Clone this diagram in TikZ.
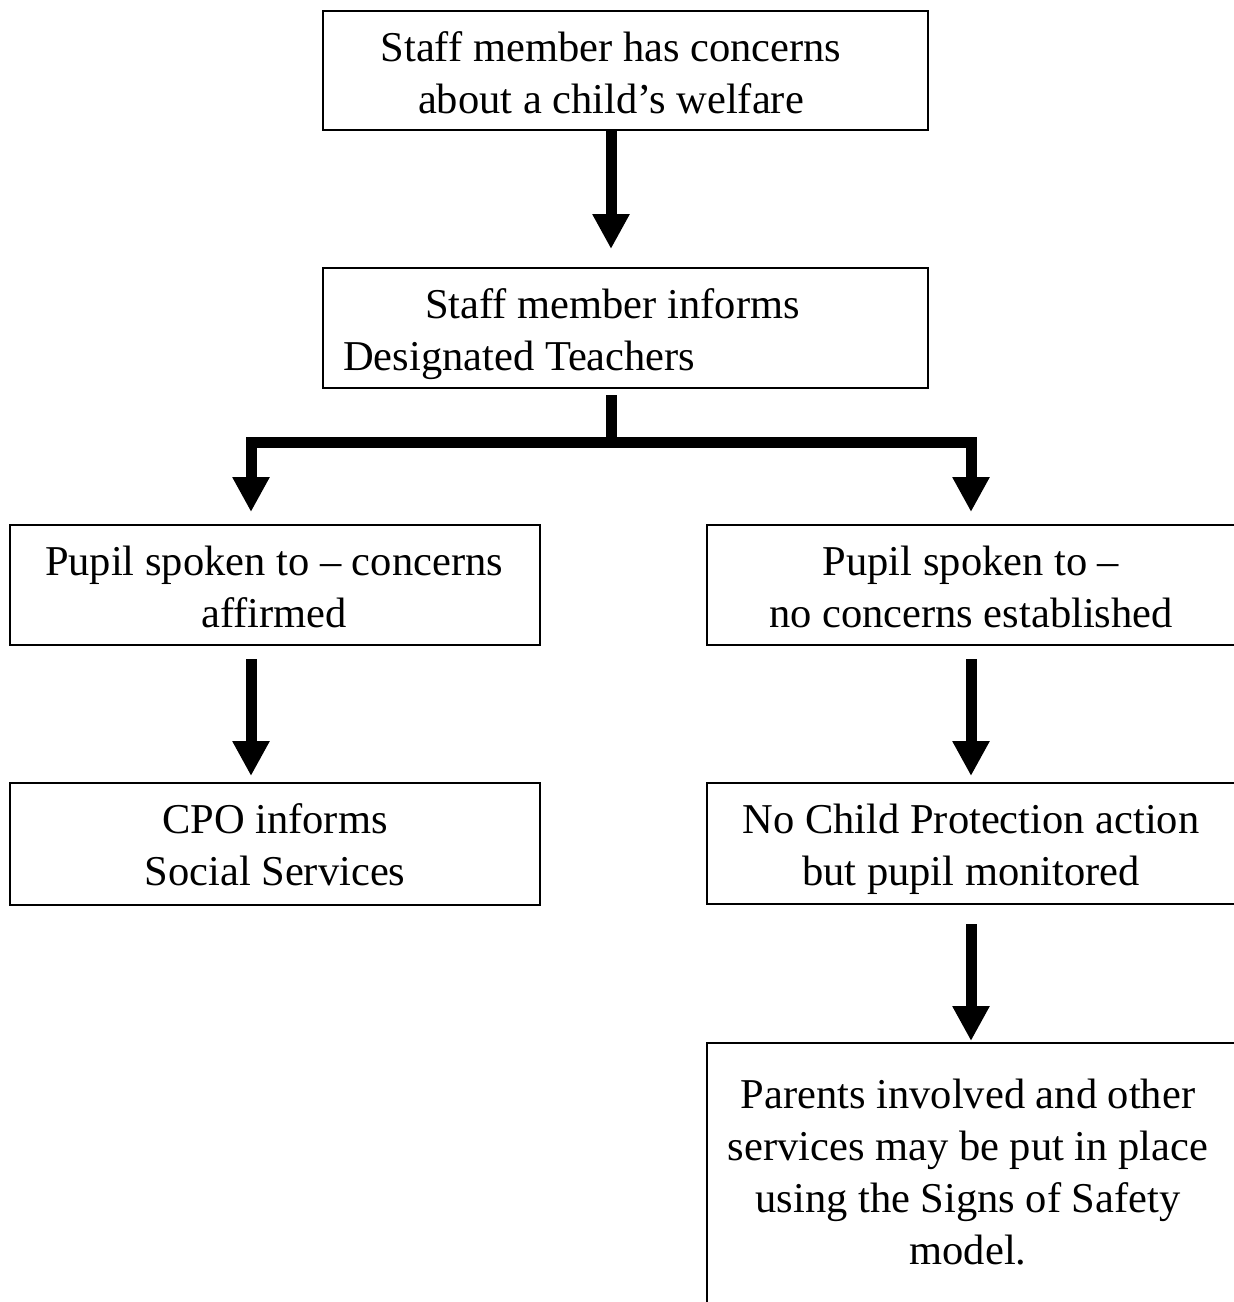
\documentclass[tikz,border=0pt]{standalone}
\usepackage{fontspec}
\setmainfont{Liberation Serif}
\usetikzlibrary{arrows.meta}
\newcommand{\tlines}[2][c]{\begin{tabular}[t]{@{}#1@{}}#2\end{tabular}}
\tikzset{
  box/.style={draw, rectangle, line width=2pt, inner sep=0pt},
  txt/.style={inner sep=0pt, anchor=base, font=\fontsize{42.5}{52}\selectfont},
  fatline/.style={line width=11pt, line cap=butt, line join=miter},
  fatarrow/.style={fatline, -{Triangle[width=35pt,length=35pt]}}
}
\begin{document}
\begin{tikzpicture}[x=1pt,y=-1pt]
\path[use as bounding box] (0,0) rectangle (1234,1302);
\clip (0,0) rectangle (1234,1302);
% boxes
\node[box, minimum width=605pt, minimum height=119pt] (b1) at (625.5,70.5) {};
\node[box, minimum width=605pt, minimum height=120pt] (b2) at (625.5,328) {};
\node[box, minimum width=530pt, minimum height=120pt] (b3) at (275,585) {};
\node[box, minimum width=533pt, minimum height=120pt] (b4) at (973.5,585) {};
\node[box, minimum width=530pt, minimum height=122pt] (b5) at (275,844) {};
\node[box, minimum width=533pt, minimum height=121pt] (b6) at (973.5,843.5) {};
\node[box, minimum width=533pt, minimum height=357pt] (b7) at (973.5,1221.5) {};
% texts
\node[txt] (t1) at (611,61) {\tlines{Staff member has concerns\\about a child’s welfare}};
\node[txt, anchor=base west] (t2) at (343,318) {\tlines[l]{\hspace*{82pt}Staff member informs\\Designated Teachers}};
\node[txt] (t3) at (274,575) {\tlines{Pupil spoken to – concerns\\affirmed}};
\node[txt] (t4) at (971,575) {\tlines{Pupil spoken to –\\no concerns established}};
\node[txt] (t5) at (275,833) {\tlines{CPO informs\\Social Services}};
\node[txt] (t6) at (971,833) {\tlines{No Child Protection action\\but pupil monitored}};
\node[txt] (t7) at (968,1108) {\tlines{Parents involved and other\\services may be put in place\\using the Signs of Safety\\model.}};
% connectors
\coordinate (split) at (611,442.5);
\draw[fatarrow, shorten >=18pt] ([xshift=-14.5pt]b1.south) -- ([xshift=-14.5pt]b2.north);
\draw[fatline] ([xshift=-14.5pt,yshift=-6pt]b2.south) -- (split);
\draw[fatarrow, shorten >=12pt] (split) -| ([xshift=-24pt]b3.north);
\draw[fatarrow, shorten >=12pt] (split) -| ([xshift=-2.5pt]b4.north);
\draw[fatarrow, shorten >=6pt] ([xshift=-24pt,yshift=-13pt]b3.south) -- ([xshift=-24pt]b5.north);
\draw[fatarrow, shorten >=6pt] ([xshift=-2.5pt,yshift=-13pt]b4.south) -- ([xshift=-2.5pt]b6.north);
\draw[fatarrow, shorten >=1pt] ([xshift=-2.5pt,yshift=-19pt]b6.south) -- ([xshift=-2.5pt]b7.north);
\end{tikzpicture}
\end{document}
